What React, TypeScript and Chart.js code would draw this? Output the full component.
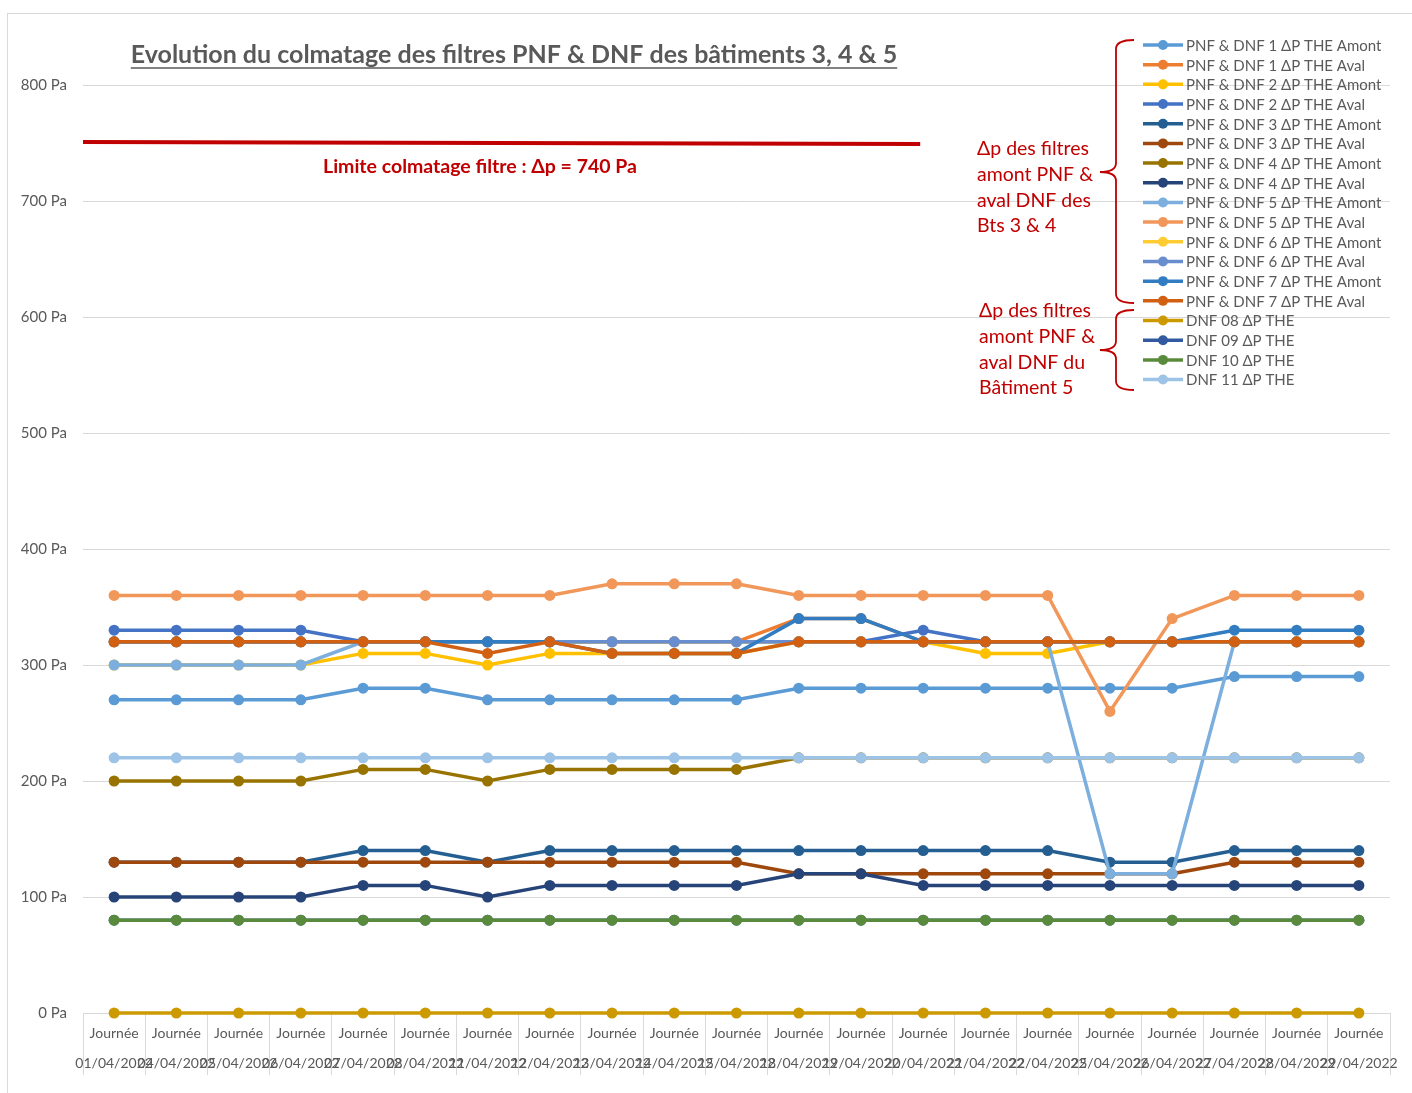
import React, { useEffect, useRef } from "react";
import { Chart, registerables } from "chart.js";

Chart.register(...registerables);

const days = [
  "01/04/2022", "04/04/2022", "05/04/2022", "06/04/2022", "07/04/2022", "08/04/2022",
  "11/04/2022", "12/04/2022", "13/04/2022", "14/04/2022", "15/04/2022", "18/04/2022",
  "19/04/2022", "20/04/2022", "21/04/2022", "22/04/2022", "25/04/2022", "26/04/2022",
  "27/04/2022", "28/04/2022", "29/04/2022",
];
const categories = days.map((d) => ["Journée", d]);

const pnf1Amont = [270, 270, 270, 270, 280, 280, 270, 270, 270, 270, 270, 280, 280, 280, 280, 280, 280, 280, 290, 290, 290];
const pnf1Aval = [320, 320, 320, 320, 320, 320, 320, 320, 320, 320, 320, 340, 340, 320, 320, 320, 320, 320, 320, 320, 320];
const pnf2Amont = [300, 300, 300, 300, 310, 310, 300, 310, 310, 310, 310, 320, 320, 320, 310, 310, 320, 320, 320, 320, 320];
const pnf2Aval = [330, 330, 330, 330, 320, 320, 320, 320, 320, 320, 320, 320, 320, 330, 320, 320, 320, 320, 320, 320, 320];
const pnf3Amont = [130, 130, 130, 130, 140, 140, 130, 140, 140, 140, 140, 140, 140, 140, 140, 140, 130, 130, 140, 140, 140];
const pnf3Aval = [130, 130, 130, 130, 130, 130, 130, 130, 130, 130, 130, 120, 120, 120, 120, 120, 120, 120, 130, 130, 130];
const pnf4Amont = [200, 200, 200, 200, 210, 210, 200, 210, 210, 210, 210, 220, 220, 220, 220, 220, 220, 220, 220, 220, 220];
const pnf4Aval = [100, 100, 100, 100, 110, 110, 100, 110, 110, 110, 110, 120, 120, 110, 110, 110, 110, 110, 110, 110, 110];
const pnf5Amont = [300, 300, 300, 300, 320, 320, 320, 320, 320, 320, 320, 320, 320, 320, 320, 320, 120, 120, 320, 320, 320];
const pnf5Aval = [360, 360, 360, 360, 360, 360, 360, 360, 370, 370, 370, 360, 360, 360, 360, 360, 260, 340, 360, 360, 360];
const pnf6Amont = [320, 320, 320, 320, 320, 320, 320, 320, 320, 320, 320, 320, 320, 320, 320, 320, 320, 320, 320, 320, 320];
const pnf6Aval = [320, 320, 320, 320, 320, 320, 320, 320, 320, 320, 320, 320, 320, 320, 320, 320, 320, 320, 320, 320, 320];
const pnf7Amont = [320, 320, 320, 320, 320, 320, 320, 320, 310, 310, 310, 340, 340, 320, 320, 320, 320, 320, 330, 330, 330];
const pnf7Aval = [320, 320, 320, 320, 320, 320, 310, 320, 310, 310, 310, 320, 320, 320, 320, 320, 320, 320, 320, 320, 320];
const dnf08 = [0, 0, 0, 0, 0, 0, 0, 0, 0, 0, 0, 0, 0, 0, 0, 0, 0, 0, 0, 0, 0];
const dnf09 = [80, 80, 80, 80, 80, 80, 80, 80, 80, 80, 80, 80, 80, 80, 80, 80, 80, 80, 80, 80, 80];
const dnf10 = [80, 80, 80, 80, 80, 80, 80, 80, 80, 80, 80, 80, 80, 80, 80, 80, 80, 80, 80, 80, 80];
const dnf11 = [220, 220, 220, 220, 220, 220, 220, 220, 220, 220, 220, 220, 220, 220, 220, 220, 220, 220, 220, 220, 220];

const seriesNames = [
  "PNF & DNF 1 ΔP THE Amont", "PNF & DNF 1 ΔP THE Aval",
  "PNF & DNF 2 ΔP THE Amont", "PNF & DNF 2 ΔP THE Aval",
  "PNF & DNF 3 ΔP THE Amont", "PNF & DNF 3 ΔP THE Aval",
  "PNF & DNF 4 ΔP THE Amont", "PNF & DNF 4 ΔP THE Aval",
  "PNF & DNF 5 ΔP THE Amont", "PNF & DNF 5 ΔP THE Aval",
  "PNF & DNF 6 ΔP THE Amont", "PNF & DNF 6 ΔP THE Aval",
  "PNF & DNF 7 ΔP THE Amont", "PNF & DNF 7 ΔP THE Aval",
  "DNF 08 ΔP THE", "DNF 09 ΔP THE", "DNF 10 ΔP THE", "DNF 11 ΔP THE",
];
const seriesValues = [
  pnf1Amont, pnf1Aval, pnf2Amont, pnf2Aval, pnf3Amont, pnf3Aval, pnf4Amont, pnf4Aval,
  pnf5Amont, pnf5Aval, pnf6Amont, pnf6Aval, pnf7Amont, pnf7Aval, dnf08, dnf09, dnf10, dnf11,
];
const seriesColors = [
  "#5B9BD5", "#ED7D31", "#FFC000", "#4472C4", "#255E91", "#9E480E", "#997300", "#264478",
  "#7CAFDD", "#F1975A", "#FFCD33", "#698ED0", "#327DC2", "#D26012", "#CC9A00", "#335AA1",
  "#5A8A3C", "#9DC3E6",
];

const limitValue = 750;
const limitEndIndex = 13;
const titleText = "Evolution du colmatage des filtres PNF & DNF des bâtiments 3, 4 & 5";
const limitText = "Limite colmatage filtre : Δp = 740 Pa";
const noteBts34 = ["Δp des filtres", "amont PNF &", "aval DNF des", "Bts 3 & 4"];
const noteBt5 = ["Δp des filtres", "amont PNF &", "aval DNF du", "Bâtiment 5"];

const FONT = "Lato, 'Open Sans', sans-serif";
const GREY = "#595959";
const RED = "#C00000";

// page offset of canvas
const OX = 8;
const OY = 14;

function brace(ctx: CanvasRenderingContext2D, xr: number, xm: number, xt: number, top: number, mid: number, bottom: number) {
  const r = 9;
  ctx.beginPath();
  ctx.moveTo(xr, top);
  ctx.quadraticCurveTo(xm, top, xm, top + r);
  ctx.lineTo(xm, mid - r);
  ctx.quadraticCurveTo(xm, mid, xt, mid);
  ctx.quadraticCurveTo(xm, mid, xm, mid + r);
  ctx.lineTo(xm, bottom - r);
  ctx.quadraticCurveTo(xm, bottom, xr, bottom);
  ctx.stroke();
}

const overlayPlugin = {
  id: "overlay",
  afterDraw(chart: any) {
    const ctx: CanvasRenderingContext2D = chart.ctx;
    const xs = chart.scales.x;
    const ys = chart.scales.y;
    ctx.save();

    // title
    ctx.font = `bold 25px ${FONT}`;
    ctx.fillStyle = GREY;
    ctx.textAlign = "center";
    ctx.textBaseline = "middle";
    const tx = 514 - OX;
    const ty = 55 - OY;
    ctx.fillText(titleText, tx, ty);
    const tw = ctx.measureText(titleText).width;
    ctx.strokeStyle = GREY;
    ctx.lineWidth = 1.5;
    ctx.beginPath();
    ctx.moveTo(tx - tw / 2, ty + 13);
    ctx.lineTo(tx + tw / 2, ty + 13);
    ctx.stroke();

    // limit line
    const ly = ys.getPixelForValue(limitValue);
    ctx.strokeStyle = RED;
    ctx.lineWidth = 4;
    ctx.beginPath();
    ctx.moveTo(chart.chartArea.left, ly - 1);
    ctx.lineTo(xs.getPixelForValue(limitEndIndex) - 3, ly + 1);
    ctx.stroke();

    ctx.font = `bold 19.5px ${FONT}`;
    ctx.fillStyle = RED;
    ctx.fillText(limitText, 480 - OX, 167 - OY);

    // legend
    ctx.textAlign = "left";
    ctx.font = `15px ${FONT}`;
    for (let i = 0; i < seriesNames.length; i++) {
      const y = 45 - OY + i * 19.68;
      ctx.strokeStyle = seriesColors[i];
      ctx.lineWidth = 3.5;
      ctx.beginPath();
      ctx.moveTo(1143 - OX, y);
      ctx.lineTo(1183 - OX, y);
      ctx.stroke();
      ctx.fillStyle = seriesColors[i];
      ctx.beginPath();
      ctx.arc(1163 - OX, y, 5, 0, Math.PI * 2);
      ctx.fill();
      ctx.fillStyle = GREY;
      ctx.fillText(seriesNames[i], 1186 - OX, y + 1);
    }

    // braces
    ctx.strokeStyle = RED;
    ctx.lineWidth = 1.8;
    brace(ctx, 1134 - OX, 1116 - OX, 1100 - OX, 40 - OY, 172 - OY, 303 - OY);
    brace(ctx, 1134 - OX, 1116 - OX, 1100 - OX, 310 - OY, 350 - OY, 390 - OY);

    // notes
    ctx.font = `19.5px ${FONT}`;
    ctx.fillStyle = RED;
    noteBts34.forEach((t, i) => ctx.fillText(t, 977 - OX, 149 - OY + i * 25.7));
    noteBt5.forEach((t, i) => ctx.fillText(t, 979 - OX, 311 - OY + i * 25.7));

    ctx.restore();
  },
};

export default function App() {
  const ref = useRef<HTMLCanvasElement | null>(null);

  useEffect(() => {
    if (!ref.current) return;
    const datasets = seriesValues.map((vals, i) => ({
      label: seriesNames[i],
      data: vals,
      borderColor: seriesColors[i],
      backgroundColor: seriesColors[i],
      pointBackgroundColor: seriesColors[i],
      pointBorderWidth: 0,
      pointRadius: 5.5,
      borderWidth: 3.5,
      tension: 0,
      clip: false,
      order: seriesValues.length - i,
    }));
    const chart = new Chart(ref.current, {
      type: "line",
      data: { labels: categories, datasets },
      options: {
        responsive: false,
        animation: false,
        layout: { padding: { top: 71, right: 22, left: 0, bottom: 0 } },
        plugins: { legend: { display: false }, tooltip: { enabled: false }, title: { display: false } },
        scales: {
          x: {
            offset: true,
            grid: { offset: true, drawOnChartArea: false, tickLength: 62, color: "#d9d9d9", lineWidth: 1 },
            border: { color: "#d9d9d9" },
            ticks: {
              autoSkip: false,
              maxRotation: 0,
              minRotation: 0,
              padding: -57,
              color: GREY,
              font: { family: FONT, size: 14, lineHeight: 30 / 14 },
            },
            afterFit: (s: any) => {
              s.height = 80;
            },
          },
          y: {
            min: 0,
            max: 800,
            ticks: {
              stepSize: 100,
              padding: 16,
              color: GREY,
              font: { family: FONT, size: 15 },
              callback: (v: any) => `${v} Pa`,
            },
            grid: { color: "#d9d9d9", drawTicks: false },
            border: { display: false },
            afterFit: (s: any) => {
              s.width = 75;
            },
          },
        },
      },
      plugins: [overlayPlugin],
    });
    return () => chart.destroy();
  }, []);

  return (
    <div
      style={{
        position: "fixed",
        left: 7,
        top: 13,
        width: 1405,
        height: 1080,
        borderLeft: "1px solid #d9d9d9",
        borderTop: "1px solid #d9d9d9",
        background: "#fff",
      }}
    >
      <canvas ref={ref} width={1404} height={1079} style={{ display: "block" }} />
    </div>
  );
}
